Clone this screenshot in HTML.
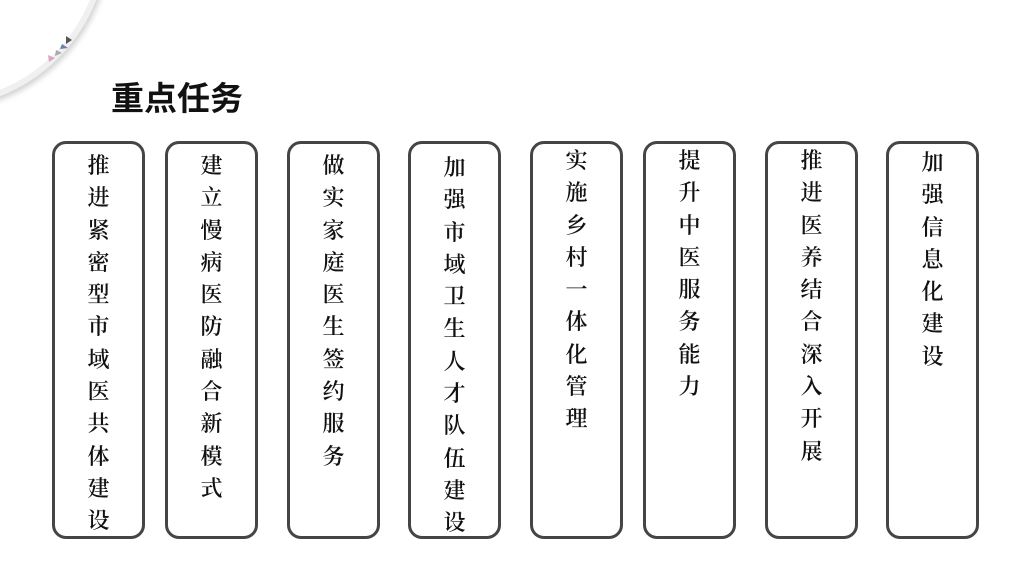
<!DOCTYPE html>
<html><head><meta charset="utf-8"><style>
html,body{margin:0;padding:0;background:#fff;}
body{width:1022px;height:572px;position:relative;overflow:hidden;font-family:"Liberation Sans","Noto Sans CJK SC",sans-serif;}
.circ{position:absolute;left:-232px;top:-232px;width:328px;height:328px;border-radius:50%;border:6px solid #f0f0f0;box-shadow:2px 3px 6px rgba(0,0,0,0.18);background:#fff;}
.title{position:absolute;left:111px;top:72px;font-size:33px;font-weight:bold;color:#111;letter-spacing:0px;}
.box{position:absolute;top:141px;width:87px;height:392px;border:3px solid #454545;border-radius:14px;box-sizing:content-box;}
.box div{position:absolute;left:0;right:0;text-align:center;font-family:"Liberation Serif","Noto Serif CJK SC",serif;font-weight:600;font-size:22px;line-height:32.3px;color:#111;}
</style></head><body>
<div class="circ"></div>
<svg style="position:absolute;left:0;top:0" width="120" height="100">
<polygon points="66,36 72,40 66,44" fill="#555"/>
<polygon points="62,44 68,48 60,49" fill="#6b7fa8"/>
<polygon points="56,50 62,53 55,56" fill="#aaa"/>
<polygon points="48,55 55,58 49,62" fill="#d8a8c0"/>
</svg>
<div class="title">重点任务</div>
<div class="box" style="left:52px"><div style="top:6px">推<br>进<br>紧<br>密<br>型<br>市<br>域<br>医<br>共<br>体<br>建<br>设</div></div>
<div class="box" style="left:165px"><div style="top:6px">建<br>立<br>慢<br>病<br>医<br>防<br>融<br>合<br>新<br>模<br>式</div></div>
<div class="box" style="left:287px"><div style="top:6px">做<br>实<br>家<br>庭<br>医<br>生<br>签<br>约<br>服<br>务</div></div>
<div class="box" style="left:408px"><div style="top:8px">加<br>强<br>市<br>域<br>卫<br>生<br>人<br>才<br>队<br>伍<br>建<br>设</div></div>
<div class="box" style="left:530px"><div style="top:1px">实<br>施<br>乡<br>村<br>一<br>体<br>化<br>管<br>理</div></div>
<div class="box" style="left:643px"><div style="top:1px">提<br>升<br>中<br>医<br>服<br>务<br>能<br>力</div></div>
<div class="box" style="left:765px"><div style="top:1px">推<br>进<br>医<br>养<br>结<br>合<br>深<br>入<br>开<br>展</div></div>
<div class="box" style="left:886px"><div style="top:3px">加<br>强<br>信<br>息<br>化<br>建<br>设</div></div>
</body></html>
